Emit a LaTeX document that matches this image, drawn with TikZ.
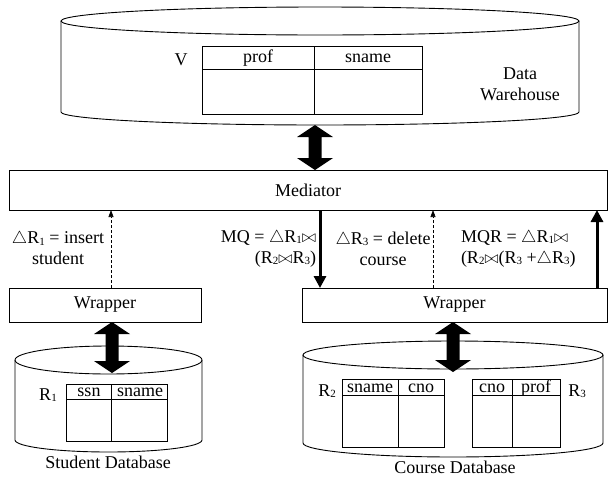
\documentclass[tikz,border=0pt]{standalone}
\usepackage{fontspec}
\setmainfont{Liberation Serif}
\usetikzlibrary{arrows.meta,calc}
\newcommand{\lsub}[1]{\raisebox{-1.2pt}{\fontsize{11}{11}\selectfont #1}}
\newcommand{\blockarrow}[2]{%
  \fill let \p1=(#1), \p2=(#2) in
    (\x1,\y1) -- ({\x1+18pt},{\y1-12pt}) -- ({\x1+6.5pt},{\y1-12pt}) --
    ({\x1+6.5pt},{\y2+12pt}) -- ({\x1+18pt},{\y2+12pt}) -- (\x1,\y2) --
    ({\x1-18pt},{\y2+12pt}) -- ({\x1-6.5pt},{\y2+12pt}) --
    ({\x1-6.5pt},{\y1-12pt}) -- ({\x1-18pt},{\y1-12pt}) -- cycle;}
\begin{document}
\begin{tikzpicture}[x=1pt,y=-1pt,
  font=\fontsize{18}{21}\selectfont,
  line width=0.9pt,
  box/.style={draw, line width=0.9pt, inner sep=0pt, outer sep=0pt},
  lbl/.style={inner sep=0pt, outer sep=0pt},
  dasharrow/.style={dashed, dash pattern=on 3pt off 2pt, line width=0.6pt,
    -{Triangle[length=7pt,width=5pt]}},
  thickarrow/.style={line width=3pt, -{Triangle[length=12pt,width=12pt]}}]
\useasboundingbox (0,0) rectangle (608,477);

% ---------- Data warehouse cylinder ----------
\draw (61,21) -- (61,112) arc[start angle=180,end angle=360,x radius=259pt,y radius=13pt] -- (579,21);
\draw (320,21) ellipse [x radius=259pt, y radius=14pt];
\draw (202,46) rectangle (422,114);
\draw (202,69) -- (422,69);
\draw (314,46) -- (314,114);
\node[lbl] (vprof) at (258,58) {prof};
\node[lbl] (vsname) at (368,58) {sname};
\node[lbl] (vlab) at (181,60) {V};
\node[lbl, align=center] (dwlab) at (520,84) {Data\\Warehouse};

% ---------- Mediator and wrappers ----------
\node[box, minimum width=598pt, minimum height=40pt] (med) at (308,190) {Mediator};
\node[box, minimum width=192pt, minimum height=34pt] (lw) at (105,305) {Wrapper};
\node[box, minimum width=305pt, minimum height=34pt] (rw) at (454.5,305) {Wrapper};

% ---------- Student database ----------
\draw (15,360) -- (15,440) arc[start angle=180,end angle=360,x radius=93.5pt,y radius=12pt] -- (202,360);
\draw (108.5,360) ellipse [x radius=93.5pt, y radius=14pt];
\draw (66,384) rectangle (167,441);
\draw (66,399) -- (167,399);
\draw (111,384) -- (111,441);
\node[lbl] (r1a) at (89,392) {ssn};
\node[lbl] (r1b) at (140,392) {sname};
\node[lbl] (r1lab) at (48,395) {R\lsub{1}};
\node[lbl] (sdb) at (108,462) {Student Database};

% ---------- Course database ----------
\draw (303,355) -- (303,443) arc[start angle=180,end angle=360,x radius=150pt,y radius=14pt] -- (603,355);
\draw (453,355) ellipse [x radius=150pt, y radius=14pt];
\draw (342,379) rectangle (444,447);
\draw (342,395) -- (444,395);
\draw (398,379) -- (398,447);
\node[lbl] (r2a) at (370,388) {sname};
\node[lbl] (r2b) at (421,388) {cno};
\node[lbl] (r2lab) at (327,391) {R\lsub{2}};
\draw (472,379) rectangle (560,447);
\draw (472,395) -- (560,395);
\draw (512,379) -- (512,447);
\node[lbl] (r3a) at (492,388) {cno};
\node[lbl] (r3b) at (536,388) {prof};
\node[lbl] (r3lab) at (577,391) {R\lsub{3}};
\node[lbl] (cdb) at (455,467) {Course Database};

% ---------- Block double arrows ----------
\coordinate (dwb) at (315,125);
\blockarrow{dwb}{dwb |- med.north}
\coordinate (sdt) at (112,373);
\blockarrow{sdt |- lw.south}{sdt}
\coordinate (cdt) at (453,372);
\blockarrow{cdt |- rw.south}{cdt}

% ---------- Messages ----------
\coordinate (d1) at (111,288);
\draw[dasharrow] (d1) -- (d1 |- med.south);
\coordinate (d2) at (433,288);
\draw[dasharrow] (d2) -- (d2 |- med.south);
\coordinate (q1) at (320,210);
\draw[thickarrow] (q1) -- (q1 |- rw.north);
\coordinate (q2) at (597,288);
\draw[thickarrow] (q2) -- (q2 |- med.south);

\node[lbl, align=center] (l1) at (58,248.5) {$\triangle$R\lsub{1} = insert\\student};
\node[lbl, align=right, anchor=east] (l2) at (316,248.5) {MQ = $\triangle$R\lsub{1}$\bowtie$\\(R\lsub{2}$\bowtie$R\lsub{3})};
\node[lbl, align=center] (l3) at (383,248.5) {$\triangle$R\lsub{3} = delete\\course};
\node[lbl, align=left, anchor=west] (l4) at (461,248.5) {MQR = $\triangle$R\lsub{1}$\bowtie$\\(R\lsub{2}$\bowtie$(R\lsub{3} +$\triangle$R\lsub{3})};
\end{tikzpicture}
\end{document}
